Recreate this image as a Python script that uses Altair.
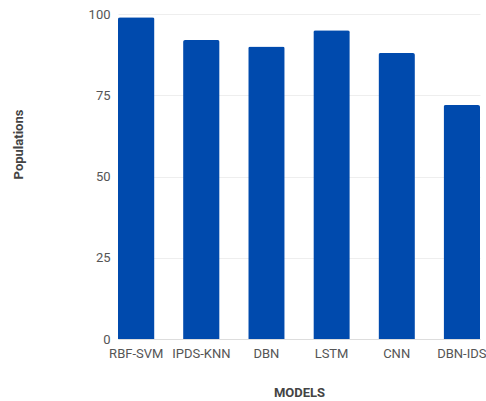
import altair as alt
import pandas as pd

models = ["RBF-SVM", "IPDS-KNN", "DBN", "LSTM", "CNN", "DBN-IDS"]
populations = [99, 92, 90, 95, 88, 72]

df = pd.DataFrame({"model": models, "value": populations})

chart = alt.Chart(df).mark_bar(
    color="#004AAD", cornerRadiusTopLeft=2, cornerRadiusTopRight=2
).encode(
    x=alt.X("model:N", sort=models,
            scale=alt.Scale(paddingInner=0.44, paddingOuter=0),
            axis=alt.Axis(title="MODELS", labelAngle=0, ticks=False,
                          domainColor="#dddddd", labelPadding=8,
                          titleY=53, titleBaseline="middle")),
    y=alt.Y("value:Q", scale=alt.Scale(domain=[0, 100]),
            axis=alt.Axis(title="Populations", values=[0, 25, 50, 75, 100],
                          ticks=False, domain=False, labelPadding=8,
                          gridColor="#eeeeee",
                          titleX=-100, titleY=130, titleAngle=-90,
                          titleAlign="center", titleBaseline="middle")),
).properties(
    width=362, height=325,
    autosize=alt.AutoSizeParams(type="none"),
    padding={"left": 118, "top": 14, "right": 6, "bottom": 62},
).configure_axis(
    labelFont="Roboto", labelFontSize=13, labelColor="#555555",
    titleFont="Roboto", titleFontSize=13, titleFontWeight="bold",
    titleColor="#444444", grid=True,
).configure_axisX(grid=False).configure_view(stroke=None)

chart.save("out.html", embed_options={"renderer": "svg", "actions": False})
